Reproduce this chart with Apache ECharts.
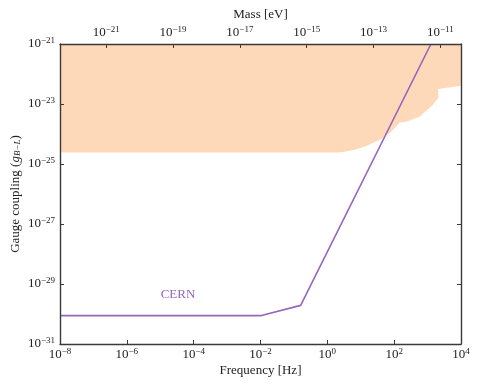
<!DOCTYPE html>
<html>
<head>
<meta charset="utf-8">
<script src="https://cdn.jsdelivr.net/npm/echarts@6/dist/echarts.min.js"></script>
<style>
  html, body { margin: 0; padding: 0; background: #fff; }
  #main { width: 478px; height: 386px; }
</style>
</head>
<body>
<div id="main"></div>
<script>
// excluded region (filled above the boundary)
var boundFreq = [1e-8, 1e-4, 1e-1, 2.39, 6.7, 13.4, 37.6, 74.8, 149, 242, 592, 1449, 2089, 2089, 1e4];
var boundG = [2.44e-25, 2.44e-25, 2.44e-25, 2.44e-25, 3.0e-25, 3.86e-25, 6.46e-25, 1.08e-24, 2.44e-24, 2.63e-24, 3.86e-24, 9.48e-24, 1.62e-23, 3.16e-23, 4.07e-23];
// CERN projection
var cernFreq = [1e-8, 1e-2, 0.159, 1259];
var cernG = [8.8e-31, 8.8e-31, 1.94e-30, 1e-21];
var cernLabelAt = [3.4e-5, 4.4e-30];
// axis ranges and tick values
var freqMin = 1e-8, freqMax = 1e4;
var gMin = 1e-31, gMax = 1e-21;
var freqTicks = [1e-8, 1e-6, 1e-4, 1e-2, 1, 1e2, 1e4];
var massTicks = [1e-21, 1e-19, 1e-17, 1e-15, 1e-13, 1e-11];
var gTicks = [1e-31, 1e-29, 1e-27, 1e-25, 1e-23, 1e-21];
// 1 Hz <-> 4.1357e-15 eV
var hEv = 4.1357e-15;

var font = 'Liberation Serif';
var frameColor = '#3a3a3a';

// the axes are drawn in decades (log10), values stay real above
var lg = function (v) { return Math.log10(v); };
function zip(a, b) {
  var out = [];
  for (var i = 0; i < a.length; i++) out.push([lg(a[i]), lg(b[i])]);
  return out;
}
function powLabel(v) {
  var e = Math.round(v);
  return '10{sup|' + String(e).replace('-', '\u2212') + '}';
}
var labelRich = {
  sup: { fontSize: 9, fontFamily: font, color: '#222', verticalAlign: 'top', lineHeight: 10 }
};

function axisBase(pos, ticks, showLabels, min, max) {
  var vals = ticks.map(lg);
  return {
    type: 'value',
    position: pos,
    min: min, max: max,
    z: 10,
    nameMoveOverlap: false,
    axisLine: { show: true, onZero: false, lineStyle: { color: frameColor, width: 1.4 } },
    axisTick: { show: true, inside: true, length: 4, customValues: vals, lineStyle: { color: frameColor, width: 1 } },
    axisLabel: {
      show: showLabels, customValues: vals, formatter: powLabel,
      fontFamily: font, fontSize: 13, color: '#222', lineHeight: 15, rich: labelRich
    },
    minorTick: { show: false },
    splitLine: { show: false }
  };
}

var myChart = echarts.init(document.getElementById('main'));

var xBottom = axisBase('bottom', freqTicks, true, lg(freqMin), lg(freqMax));
xBottom.axisLabel.margin = 3;
xBottom.name = 'Frequency [Hz]';
xBottom.nameLocation = 'middle';
xBottom.nameGap = 20;
xBottom.nameTextStyle = { fontFamily: font, fontSize: 13, color: '#222' };

var xTop = axisBase('top', massTicks, true, lg(freqMin * hEv), lg(freqMax * hEv));
xTop.axisLabel.margin = 4;
xTop.name = 'Mass [eV]';
xTop.nameLocation = 'middle';
xTop.nameGap = 23;
xTop.nameTextStyle = { fontFamily: font, fontSize: 13, color: '#222' };

var yLeft = axisBase('left', gTicks, true, lg(gMin), lg(gMax));
yLeft.axisLabel.margin = 5;
yLeft.name = 'Gauge coupling ({it|g}{sub|B\u2212L})';
yLeft.nameLocation = 'middle';
yLeft.nameGap = 38;
yLeft.nameTextStyle = {
  fontFamily: font, fontSize: 13, color: '#222',
  rich: {
    it: { fontFamily: font, fontSize: 13, fontStyle: 'italic', color: '#222' },
    sub: { fontFamily: font, fontSize: 9, fontStyle: 'italic', color: '#222', verticalAlign: 'bottom', lineHeight: 12 }
  }
};

var yRight = axisBase('right', gTicks, false, lg(gMin), lg(gMax));

function renderRegion(params, api) {
  var pts = [];
  for (var i = 0; i < boundFreq.length; i++) {
    pts.push(api.coord([lg(boundFreq[i]), lg(boundG[i])]));
  }
  pts.push(api.coord([lg(boundFreq[boundFreq.length - 1]), lg(gMax)]));
  pts.push(api.coord([lg(boundFreq[0]), lg(gMax)]));
  return {
    type: 'polygon',
    shape: { points: pts },
    style: { fill: '#fdd9b9', stroke: null }
  };
}

option = {
  animation: false,
  backgroundColor: '#fff',
  grid: { left: 60, right: 17, top: 44, bottom: 42, containLabel: false, outerBoundsMode: 'none' },
  xAxis: [xBottom, xTop],
  yAxis: [yLeft, yRight],
  series: [{
    type: 'custom',
    name: 'excluded',
    renderItem: renderRegion,
    data: [[lg(boundFreq[0]), lg(boundG[0])]],
    clip: true,
    silent: true,
    z: 1
  }, {
    type: 'line',
    name: 'CERN',
    data: zip(cernFreq, cernG),
    showSymbol: false,
    lineStyle: { width: 1.6, color: '#9467bd' },
    itemStyle: { color: '#9467bd' },
    z: 3,
    markPoint: {
      symbol: 'circle', symbolSize: 0,
      label: { show: true, formatter: 'CERN', fontFamily: font, fontSize: 13, color: '#9467bd', position: 'inside' },
      data: [{ coord: [lg(cernLabelAt[0]), lg(cernLabelAt[1])] }]
    }
  }]
};
myChart.setOption(option);
</script>
</body>
</html>
